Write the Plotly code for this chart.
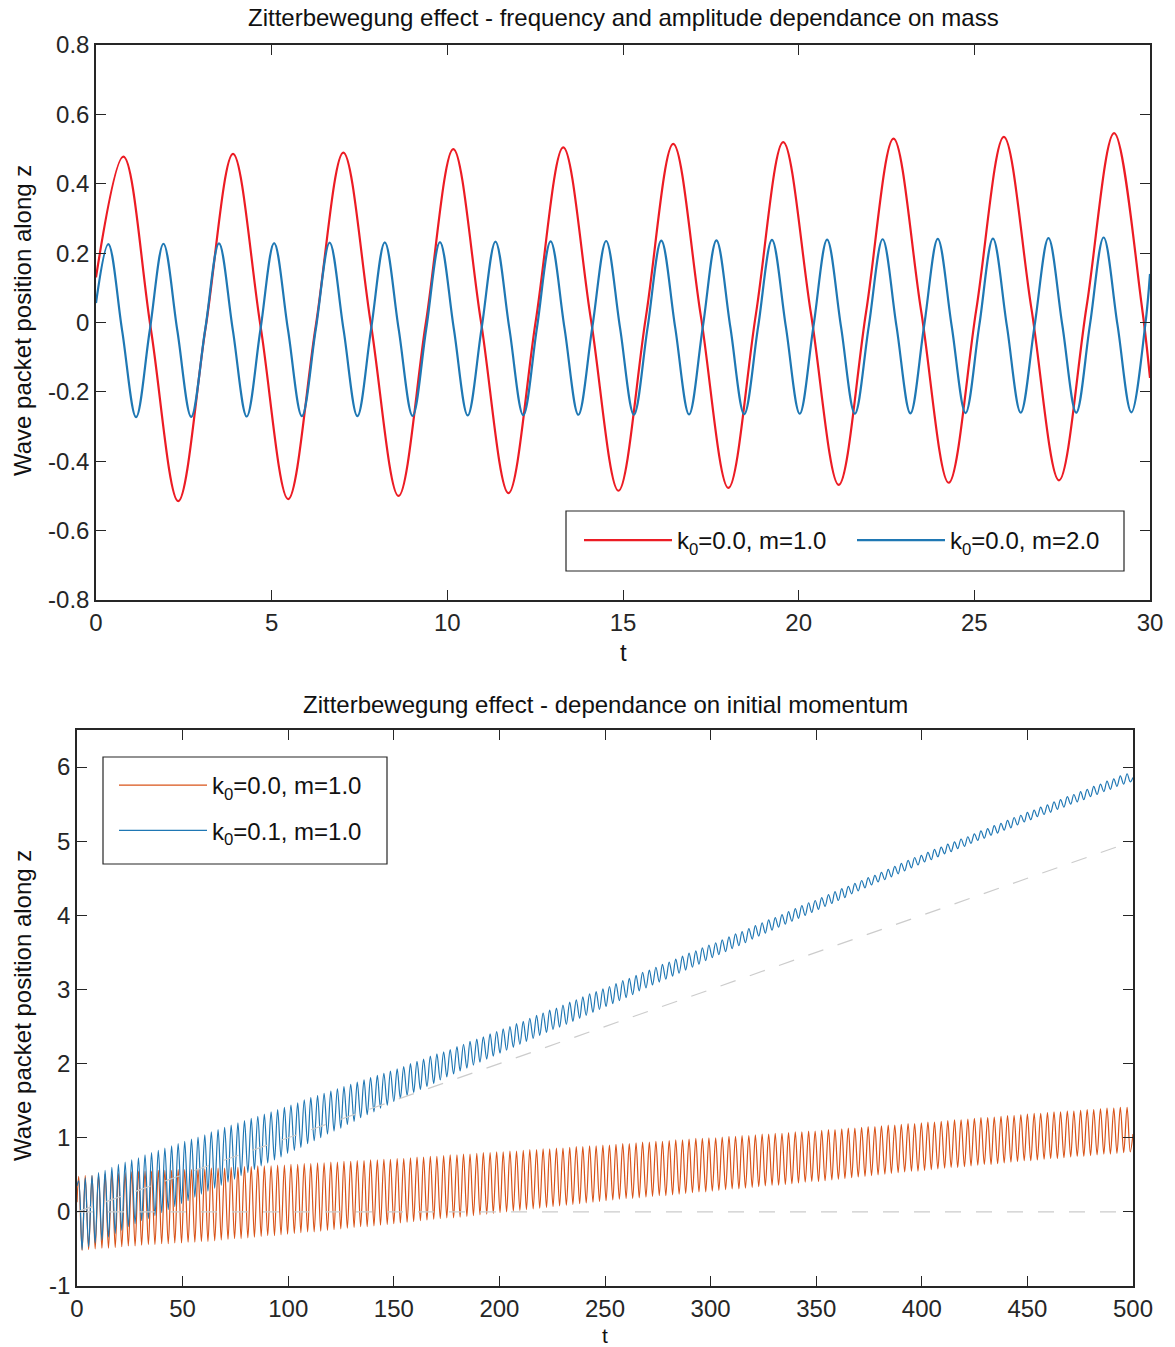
import plotly.graph_objects as go

# ---------------- data ----------------
# Top panel: k0=0.0, m=1.0 (red) and k0=0.0, m=2.0 (blue); extrema and mid-crossings
top_red_t = [0.0, 0.78, 1.56, 2.34, 3.12, 3.90, 4.685, 5.47, 6.255, 7.04, 7.825, 8.61, 9.39,
             10.17, 10.955, 11.74, 12.52, 13.30, 14.085, 14.87, 15.65, 16.43, 17.215, 18.0,
             18.78, 19.56, 20.35, 21.14, 21.92, 22.70, 23.485, 24.27, 25.055, 25.84, 26.625,
             27.41, 28.195, 28.98, 29.765, 30.0]
top_red_z = [0.13, 0.478, -0.018, -0.515, -0.015, 0.486, -0.012, -0.509, -0.010, 0.490, -0.005,
             -0.500, 0.000, 0.500, 0.004, -0.492, 0.007, 0.505, 0.010, -0.485, 0.015, 0.515,
             0.019, -0.477, 0.022, 0.520, 0.026, -0.468, 0.031, 0.530, 0.034, -0.462, 0.037,
             0.535, 0.040, -0.455, 0.046, 0.546, 0.049, -0.16]

top_blue_t = [0.0,
              0.35, 0.745, 1.14, 1.53, 1.92, 2.315, 2.71, 3.105, 3.50, 3.895, 4.29, 4.68,
              5.07, 5.465, 5.86, 6.255, 6.65, 7.045, 7.44, 7.83, 8.22, 8.615, 9.01, 9.40,
              9.79, 10.185, 10.58, 10.975, 11.37, 11.765, 12.16, 12.55, 12.94, 13.335, 13.73, 14.125,
              14.52, 14.915, 15.31, 15.70, 16.09, 16.485, 16.88, 17.27, 17.66, 18.055, 18.45, 18.845,
              19.24, 19.635, 20.03, 20.42, 20.81, 21.205, 21.60, 21.995, 22.39, 22.785, 23.18, 23.57,
              23.96, 24.355, 24.75, 25.14, 25.53, 25.925, 26.32, 26.715, 27.11, 27.505, 27.90, 28.29,
              28.68, 29.075, 29.47, 29.865,
              30.0]
top_blue_z = [0.056,
              0.226, -0.024, -0.273, -0.023, 0.227, -0.023, -0.272, -0.022, 0.228, -0.022, -0.271, -0.021,
              0.229, -0.021, -0.270, -0.020, 0.230, -0.020, -0.270, -0.019, 0.231, -0.019, -0.269, -0.018,
              0.232, -0.018, -0.268, -0.017, 0.233, -0.017, -0.267, -0.016, 0.234, -0.016, -0.266, -0.015,
              0.235, -0.015, -0.266, -0.015, 0.236, -0.014, -0.265, -0.014, 0.237, -0.013, -0.264, -0.013,
              0.238, -0.012, -0.263, -0.012, 0.239, -0.012, -0.263, -0.011, 0.240, -0.011, -0.262, -0.010,
              0.241, -0.010, -0.261, -0.009, 0.242, -0.009, -0.260, -0.009, 0.243, -0.008, -0.260, -0.007,
              0.245, -0.007, -0.259, -0.007,
              0.14]

# Bottom panel: extrema of k0=0.0, m=1.0 (orange) and k0=0.1, m=1.0 (blue)
bot_t = [0.0,
         0.8, 2.4, 3.9, 5.5, 7.1, 8.6, 10.2, 11.8, 13.3, 14.9,
         16.5, 18.1, 19.6, 21.2, 22.8, 24.3, 25.9, 27.5, 29.1, 30.6,
         32.2, 33.8, 35.3, 36.9, 38.5, 40.1, 41.6, 43.2, 44.8, 46.3,
         47.9, 49.5, 51.0, 52.6, 54.2, 55.8, 57.3, 58.9, 60.5, 62.0,
         63.6, 65.2, 66.8, 68.3, 69.9, 71.5, 73.0, 74.6, 76.2, 77.7,
         79.3, 80.9, 82.5, 84.0, 85.6, 87.2, 88.7, 90.3, 91.9, 93.5,
         95.0, 96.6, 98.2, 99.7, 101.3, 102.9, 104.5, 106.0, 107.6, 109.2,
         110.7, 112.3, 113.9, 115.4, 117.0, 118.6, 120.2, 121.7, 123.3, 124.9,
         126.4, 128.0, 129.6, 131.2, 132.7, 134.3, 135.9, 137.4, 139.0, 140.6,
         142.2, 143.7, 145.3, 146.9, 148.4, 150.0, 151.6, 153.1, 154.7, 156.3,
         157.9, 159.4, 161.0, 162.6, 164.1, 165.7, 167.3, 168.9, 170.4, 172.0,
         173.6, 175.1, 176.7, 178.3, 179.9, 181.4, 183.0, 184.6, 186.1, 187.7,
         189.3, 190.8, 192.4, 194.0, 195.6, 197.1, 198.7, 200.3, 201.8, 203.4,
         205.0, 206.6, 208.1, 209.7, 211.3, 212.8, 214.4, 216.0, 217.6, 219.1,
         220.7, 222.3, 223.8, 225.4, 227.0, 228.5, 230.1, 231.7, 233.3, 234.8,
         236.4, 238.0, 239.5, 241.1, 242.7, 244.3, 245.8, 247.4, 249.0, 250.5,
         252.1, 253.7, 255.2, 256.8, 258.4, 260.0, 261.5, 263.1, 264.7, 266.2,
         267.8, 269.4, 271.0, 272.5, 274.1, 275.7, 277.2, 278.8, 280.4, 282.0,
         283.5, 285.1, 286.7, 288.2, 289.8, 291.4, 293.0, 294.5, 296.1, 297.7,
         299.2, 300.8, 302.4, 303.9, 305.5, 307.1, 308.7, 310.2, 311.8, 313.4,
         314.9, 316.5, 318.1, 319.7, 321.2, 322.8, 324.4, 325.9, 327.5, 329.1,
         330.6, 332.2, 333.8, 335.4, 336.9, 338.5, 340.1, 341.6, 343.2, 344.8,
         346.4, 347.9, 349.5, 351.1, 352.6, 354.2, 355.8, 357.4, 358.9, 360.5,
         362.1, 363.6, 365.2, 366.8, 368.3, 369.9, 371.5, 373.1, 374.6, 376.2,
         377.8, 379.3, 380.9, 382.5, 384.1, 385.6, 387.2, 388.8, 390.3, 391.9,
         393.5, 395.1, 396.6, 398.2, 399.8, 401.3, 402.9, 404.5, 406.0, 407.6,
         409.2, 410.8, 412.3, 413.9, 415.5, 417.0, 418.6, 420.2, 421.8, 423.3,
         424.9, 426.5, 428.0, 429.6, 431.2, 432.8, 434.3, 435.9, 437.5, 439.0,
         440.6, 442.2, 443.7, 445.3, 446.9, 448.5, 450.0, 451.6, 453.2, 454.7,
         456.3, 457.9, 459.5, 461.0, 462.6, 464.2, 465.7, 467.3, 468.9, 470.5,
         472.0, 473.6, 475.2, 476.7, 478.3, 479.9, 481.4, 483.0, 484.6, 486.2,
         487.7, 489.3, 490.9, 492.4, 494.0, 495.6, 497.2, 498.7,
         500.0]

bot_orange_z = [0.13,
    0.48, -0.52, 0.49, -0.51, 0.49, -0.50, 0.50, -0.49, 0.51, -0.49,
    0.52, -0.48, 0.52, -0.47, 0.53, -0.46, 0.54, -0.46, 0.55, -0.45,
    0.55, -0.44, 0.55, -0.44, 0.56, -0.43, 0.56, -0.43, 0.56, -0.42,
    0.57, -0.42, 0.57, -0.41, 0.57, -0.41, 0.58, -0.40, 0.58, -0.40,
    0.59, -0.39, 0.59, -0.38, 0.59, -0.37, 0.60, -0.36, 0.60, -0.36,
    0.61, -0.35, 0.61, -0.34, 0.62, -0.33, 0.62, -0.32, 0.62, -0.32,
    0.63, -0.31, 0.63, -0.30, 0.64, -0.29, 0.64, -0.28, 0.65, -0.27,
    0.65, -0.27, 0.66, -0.26, 0.66, -0.25, 0.67, -0.24, 0.67, -0.23,
    0.68, -0.22, 0.68, -0.21, 0.69, -0.20, 0.69, -0.20, 0.70, -0.19,
    0.70, -0.18, 0.71, -0.17, 0.71, -0.16, 0.72, -0.15, 0.72, -0.14,
    0.73, -0.13, 0.74, -0.12, 0.74, -0.11, 0.75, -0.10, 0.75, -0.09,
    0.76, -0.08, 0.77, -0.08, 0.77, -0.07, 0.78, -0.06, 0.78, -0.05,
    0.79, -0.04, 0.80, -0.03, 0.80, -0.02, 0.81, -0.01, 0.81, 0.00,
    0.82, 0.01, 0.82, 0.02, 0.83, 0.03, 0.84, 0.04, 0.84, 0.05,
    0.85, 0.06, 0.85, 0.07, 0.86, 0.08, 0.86, 0.09, 0.87, 0.10,
    0.88, 0.11, 0.88, 0.12, 0.89, 0.13, 0.89, 0.14, 0.90, 0.15,
    0.90, 0.16, 0.91, 0.17, 0.92, 0.18, 0.92, 0.18, 0.93, 0.19,
    0.94, 0.20, 0.94, 0.21, 0.95, 0.22, 0.95, 0.22, 0.96, 0.23,
    0.97, 0.24, 0.97, 0.25, 0.98, 0.26, 0.99, 0.27, 0.99, 0.27,
    1.00, 0.28, 1.00, 0.29, 1.01, 0.30, 1.02, 0.31, 1.02, 0.31,
    1.03, 0.32, 1.03, 0.33, 1.04, 0.34, 1.05, 0.35, 1.05, 0.36,
    1.06, 0.36, 1.06, 0.37, 1.07, 0.38, 1.08, 0.39, 1.08, 0.40,
    1.09, 0.41, 1.09, 0.41, 1.10, 0.42, 1.11, 0.43, 1.11, 0.44,
    1.12, 0.45, 1.13, 0.46, 1.13, 0.47, 1.14, 0.48, 1.15, 0.49,
    1.15, 0.50, 1.16, 0.51, 1.17, 0.52, 1.17, 0.53, 1.18, 0.54,
    1.19, 0.55, 1.19, 0.55, 1.20, 0.56, 1.21, 0.57, 1.21, 0.58,
    1.22, 0.59, 1.23, 0.60, 1.24, 0.60, 1.24, 0.61, 1.25, 0.62,
    1.26, 0.63, 1.27, 0.64, 1.27, 0.64, 1.28, 0.65, 1.29, 0.66,
    1.30, 0.67, 1.30, 0.68, 1.31, 0.69, 1.32, 0.69, 1.33, 0.70,
    1.33, 0.71, 1.34, 0.72, 1.35, 0.72, 1.35, 0.73, 1.36, 0.74,
    1.36, 0.75, 1.37, 0.75, 1.38, 0.76, 1.38, 0.77, 1.39, 0.78,
    1.40, 0.78, 1.40, 0.79, 1.41, 0.80, 1.41, 0.81,
    1.05]

bot_blue_z = [0.35,
    0.42, -0.51, 0.46, -0.47, 0.49, -0.42, 0.53, -0.38, 0.56, -0.34,
    0.60, -0.29, 0.64, -0.25, 0.67, -0.20, 0.70, -0.16, 0.73, -0.12,
    0.77, -0.09, 0.80, -0.05, 0.83, -0.01, 0.86, 0.03, 0.89, 0.07,
    0.92, 0.11, 0.95, 0.15, 0.98, 0.20, 1.01, 0.24, 1.04, 0.28,
    1.08, 0.32, 1.11, 0.36, 1.14, 0.40, 1.17, 0.44, 1.20, 0.49,
    1.23, 0.53, 1.26, 0.57, 1.29, 0.62, 1.32, 0.66, 1.35, 0.70,
    1.38, 0.74, 1.41, 0.79, 1.44, 0.83, 1.47, 0.87, 1.51, 0.92,
    1.54, 0.96, 1.57, 1.00, 1.60, 1.05, 1.63, 1.09, 1.66, 1.13,
    1.69, 1.18, 1.72, 1.22, 1.75, 1.27, 1.78, 1.31, 1.81, 1.35,
    1.84, 1.40, 1.87, 1.44, 1.90, 1.49, 1.93, 1.53, 1.96, 1.57,
    2.00, 1.61, 2.03, 1.65, 2.06, 1.69, 2.10, 1.73, 2.13, 1.78,
    2.16, 1.82, 2.19, 1.86, 2.23, 1.90, 2.26, 1.94, 2.30, 1.98,
    2.33, 2.02, 2.36, 2.06, 2.40, 2.10, 2.43, 2.14, 2.47, 2.18,
    2.50, 2.22, 2.54, 2.26, 2.57, 2.30, 2.61, 2.34, 2.65, 2.38,
    2.68, 2.42, 2.72, 2.46, 2.75, 2.49, 2.79, 2.53, 2.83, 2.57,
    2.86, 2.61, 2.90, 2.65, 2.94, 2.69, 2.97, 2.73, 3.01, 2.77,
    3.04, 2.81, 3.08, 2.85, 3.12, 2.89, 3.15, 2.93, 3.19, 2.98,
    3.23, 3.02, 3.26, 3.06, 3.30, 3.10, 3.34, 3.14, 3.37, 3.18,
    3.41, 3.22, 3.45, 3.26, 3.49, 3.30, 3.52, 3.34, 3.56, 3.39,
    3.60, 3.43, 3.63, 3.47, 3.67, 3.51, 3.71, 3.55, 3.75, 3.59,
    3.78, 3.63, 3.82, 3.68, 3.86, 3.72, 3.90, 3.76, 3.94, 3.80,
    3.97, 3.84, 4.01, 3.88, 4.05, 3.92, 4.09, 3.96, 4.13, 4.00,
    4.17, 4.04, 4.20, 4.08, 4.24, 4.12, 4.28, 4.16, 4.32, 4.20,
    4.36, 4.24, 4.39, 4.29, 4.43, 4.33, 4.47, 4.37, 4.51, 4.41,
    4.54, 4.45, 4.58, 4.48, 4.62, 4.52, 4.66, 4.56, 4.70, 4.60,
    4.74, 4.64, 4.78, 4.68, 4.81, 4.72, 4.85, 4.75, 4.89, 4.79,
    4.92, 4.83, 4.96, 4.86, 4.99, 4.90, 5.03, 4.93, 5.06, 4.97,
    5.10, 5.01, 5.14, 5.04, 5.17, 5.08, 5.21, 5.11, 5.24, 5.15,
    5.28, 5.18, 5.32, 5.22, 5.35, 5.26, 5.39, 5.29, 5.42, 5.33,
    5.46, 5.36, 5.49, 5.39, 5.53, 5.43, 5.56, 5.46, 5.60, 5.50,
    5.63, 5.53, 5.67, 5.56, 5.70, 5.60, 5.74, 5.63, 5.77, 5.67,
    5.81, 5.70, 5.84, 5.74, 5.88, 5.77, 5.91, 5.80,
    5.86]

# classical (dashed) trajectories z = k0 * t
ref_t = [0, 500]
ref_k00 = [0, 0]
ref_k01 = [0, 5]

top_xticks = [0, 5, 10, 15, 20, 25, 30]
top_xlabels = ["0", "5", "10", "15", "20", "25", "30"]
top_yticks = [-0.8, -0.6, -0.4, -0.2, 0, 0.2, 0.4, 0.6, 0.8]
top_ylabels = ["-0.8", "-0.6", "-0.4", "-0.2", "0", "0.2", "0.4", "0.6", "0.8"]
bot_xticks = [0, 50, 100, 150, 200, 250, 300, 350, 400, 450, 500]
bot_xlabels = ["0", "50", "100", "150", "200", "250", "300", "350", "400", "450", "500"]
bot_yticks = [-1, 0, 1, 2, 3, 4, 5, 6]
bot_ylabels = ["-1", "0", "1", "2", "3", "4", "5", "6"]

assert len(top_red_t) == len(top_red_z)
assert len(top_blue_t) == len(top_blue_z)
assert len(bot_t) == len(bot_orange_z) == len(bot_blue_z)

# ---------------- figure ----------------
W, H = 1175, 1347
FONT = "Liberation Sans, Arial, Helvetica, sans-serif"
AX = "#262626"
TXT = "#111111"
RED = "#EC1C24"
BLUE_T = "#1F78B4"
ORANGE = "#D95319"
BLUE_B = "#1F77B4"
GRAY = "#CCCCCC"
FS = 24


def px_x(p):
    return p / W


def px_y(p):
    return 1 - p / H


fig = go.Figure()

fig.add_trace(go.Scatter(x=top_red_t, y=top_red_z, mode="lines", name="k<sub>0</sub>=0.0, m=1.0",
                         line=dict(color=RED, width=2.2, shape="spline", smoothing=1.0),
                         xaxis="x", yaxis="y", legend="legend"))
fig.add_trace(go.Scatter(x=top_blue_t, y=top_blue_z, mode="lines", name="k<sub>0</sub>=0.0, m=2.0",
                         line=dict(color=BLUE_T, width=2.2, shape="spline", smoothing=1.0),
                         xaxis="x", yaxis="y", legend="legend"))

fig.add_trace(go.Scatter(x=bot_t, y=bot_orange_z, mode="lines", name="k<sub>0</sub>=0.0, m=1.0",
                         line=dict(color=ORANGE, width=1.2, shape="spline", smoothing=1.0),
                         xaxis="x2", yaxis="y2", legend="legend2", legendgroup="o"))
fig.add_trace(go.Scatter(x=bot_t, y=bot_blue_z, mode="lines", name="k<sub>0</sub>=0.1, m=1.0",
                         line=dict(color=BLUE_B, width=1.2, shape="spline", smoothing=1.0),
                         xaxis="x2", yaxis="y2", legend="legend2", legendgroup="b"))
fig.add_trace(go.Scatter(x=ref_t, y=ref_k00, mode="lines", showlegend=False,
                         line=dict(color=GRAY, width=1.2, dash="16px,15px"),
                         xaxis="x2", yaxis="y2"))
fig.add_trace(go.Scatter(x=ref_t, y=ref_k01, mode="lines", showlegend=False,
                         line=dict(color=GRAY, width=1.2, dash="16px,15px"),
                         xaxis="x2", yaxis="y2"))

axis_common = dict(showline=True, linecolor=AX, linewidth=1.5, mirror="ticks", ticks="inside",
                   ticklen=10, tickwidth=1.2, tickcolor=AX, showgrid=False, zeroline=False,
                   tickfont=dict(family=FONT, size=FS, color=AX), automargin=False,
                   fixedrange=True)

fig.update_layout(
    width=W, height=H,
    margin=dict(l=0, r=0, t=0, b=0),
    paper_bgcolor="white", plot_bgcolor="white",
    font=dict(family=FONT, size=FS, color=AX),
    xaxis=dict(domain=[px_x(96), px_x(1150)], anchor="y", range=[0, 30],
               tickmode="array", tickvals=top_xticks, ticktext=top_xlabels, **axis_common),
    yaxis=dict(domain=[px_y(600), px_y(45)], anchor="x", range=[-0.8, 0.8],
               tickmode="array", tickvals=top_yticks, ticktext=top_ylabels, **axis_common),
    xaxis2=dict(domain=[px_x(77), px_x(1133)], anchor="y2", range=[0, 500],
                tickmode="array", tickvals=bot_xticks, ticktext=bot_xlabels, **axis_common),
    yaxis2=dict(domain=[px_y(1286), px_y(730)], anchor="x2", range=[-1, 6.5],
                tickmode="array", tickvals=bot_yticks, ticktext=bot_ylabels, **axis_common),
    showlegend=True,
    legend=dict(orientation="h", x=px_x(579), xanchor="left", y=px_y(518), yanchor="top",
                bgcolor="rgba(0,0,0,0)", borderwidth=0,
                font=dict(family=FONT, size=FS, color=TXT),
                itemwidth=88, entrywidth=170, entrywidthmode="pixels"),
    legend2=dict(orientation="v", x=px_x(114), xanchor="left", y=px_y(763), yanchor="top",
                 bgcolor="rgba(0,0,0,0)", borderwidth=0,
                 font=dict(family=FONT, size=FS, color=TXT),
                 itemwidth=88, traceorder="grouped", tracegroupgap=11),
)

# legend frames (white boxes with dark border, drawn over the data)
fig.add_shape(type="rect", xref="paper", yref="paper",
              x0=px_x(566), x1=px_x(1124), y0=px_y(571), y1=px_y(511),
              line=dict(color=AX, width=1.2), fillcolor="white", layer="above")
fig.add_shape(type="rect", xref="paper", yref="paper",
              x0=px_x(103), x1=px_x(387), y0=px_y(864), y1=px_y(757),
              line=dict(color=AX, width=1.2), fillcolor="white", layer="above")

annotations = [
    dict(text="Zitterbewegung effect - frequency and amplitude dependance on mass",
         x=px_x(623), y=px_y(18), yanchor="middle", size=FS),
    dict(text="Zitterbewegung effect - dependance on initial momentum",
         x=px_x(605), y=px_y(704), yanchor="middle", size=FS),
    dict(text="t", x=px_x(623), y=px_y(652), yanchor="middle", size=FS),
    dict(text="t", x=px_x(605), y=px_y(1335), yanchor="middle", size=21),
    dict(text="Wave packet position along z", x=px_x(22), y=px_y(321), yanchor="middle",
         textangle=-90, size=FS),
    dict(text="Wave packet position along z", x=px_x(22), y=px_y(1006), yanchor="middle",
         textangle=-90, size=FS),
]
for a in annotations:
    fsize = a.pop("size")
    fig.add_annotation(xref="paper", yref="paper", xanchor="center",
                       showarrow=False, font=dict(family=FONT, size=fsize, color=TXT), **a)

fig.write_html("out.html")
